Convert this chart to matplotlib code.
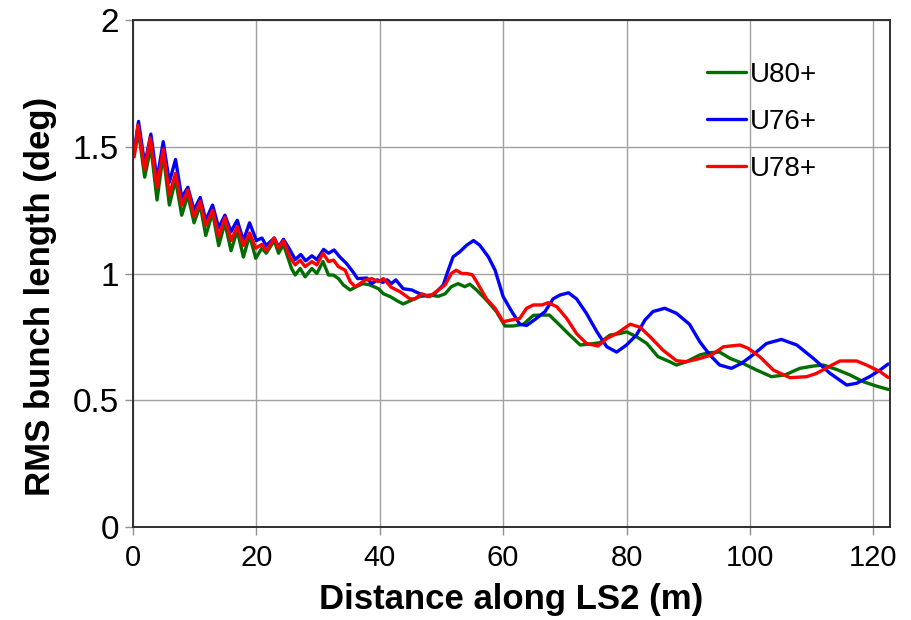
import matplotlib
matplotlib.use("Agg")
import matplotlib.pyplot as plt

# RMS bunch length along LS2 for three lattice settings
x_u80 = [0.2, 0.9, 1.9, 2.9, 3.9, 4.9, 5.9, 6.9, 7.9, 8.9, 9.9, 10.9, 11.8, 12.9, 13.9,
         14.9, 15.9, 16.9, 17.9, 18.9, 19.9, 20.9, 21.6, 22.9, 23.6, 24.4, 25.7, 26.3,
         27.1, 27.9, 29.0, 29.8, 30.8, 31.7, 32.5, 33.3, 34.1, 35.2, 36.2, 37.3, 38.4,
         39.8, 40.6, 41.7, 43.0, 43.8, 45.2, 46.5, 48.1, 49.5, 50.6, 51.6, 52.7, 53.8,
         54.6, 55.7, 57.3, 58.9, 60.3, 61.6, 63.3, 64.9, 66.4, 67.5, 68.9, 70.8, 72.5,
         74.1, 75.7, 77.3, 78.9, 80.0, 81.6, 83.3, 85.1, 87.0, 88.1, 89.7, 91.9, 93.5,
         95.1, 96.8, 98.9, 101.1, 103.5, 105.7, 108.1, 110.3, 111.9, 114.0, 116.2,
         118.4, 120.5, 122.4]
y_u80 = [1.47, 1.56, 1.38, 1.50, 1.29, 1.47, 1.27, 1.37, 1.23, 1.31, 1.20, 1.27, 1.15,
         1.24, 1.11, 1.20, 1.09, 1.17, 1.065, 1.15, 1.06, 1.10, 1.08, 1.13, 1.08, 1.115,
         1.02, 0.994, 1.02, 0.987, 1.02, 1.0, 1.047, 0.994, 0.994, 0.98, 0.955, 0.935,
         0.948, 0.96, 0.955, 0.94, 0.92, 0.909, 0.89, 0.88, 0.895, 0.909, 0.915, 0.91,
         0.92, 0.948, 0.96, 0.948, 0.958, 0.935, 0.895, 0.85, 0.793, 0.793, 0.80, 0.835,
         0.836, 0.836, 0.803, 0.757, 0.718, 0.722, 0.727, 0.757, 0.763, 0.77, 0.751,
         0.724, 0.672, 0.652, 0.639, 0.652, 0.679, 0.688, 0.69, 0.665, 0.645, 0.619,
         0.593, 0.60, 0.626, 0.635, 0.639, 0.622, 0.60, 0.573, 0.556, 0.543]

x_u76 = [0.2, 0.9, 1.9, 2.9, 3.9, 4.9, 5.9, 6.9, 7.9, 8.9, 9.9, 10.9, 11.8, 12.9, 13.9,
         14.9, 15.9, 16.9, 17.9, 18.9, 20.0, 20.9, 21.6, 22.9, 23.6, 24.4, 25.4, 26.3,
         27.2, 28.0, 29.0, 29.8, 30.9, 31.7, 32.6, 33.5, 34.6, 35.7, 36.4, 37.9, 38.7,
         39.6, 40.5, 41.2, 41.9, 42.6, 43.8, 45.2, 46.5, 47.9, 48.9, 50.3, 51.1, 51.9,
         53.0, 54.1, 55.2, 56.2, 57.6, 58.7, 60.0, 61.4, 62.7, 63.8, 65.4, 66.8, 68.1,
         69.2, 70.6, 71.9, 73.5, 75.2, 76.8, 78.4, 80.0, 81.6, 83.0, 84.3, 86.2, 88.1,
         90.2, 91.9, 93.5, 95.1, 97.0, 98.6, 100.5, 102.7, 105.1, 107.6, 110.3, 113.0,
         115.7, 117.3, 119.4, 121.1, 122.4]
y_u76 = [1.48, 1.60, 1.43, 1.55, 1.37, 1.52, 1.36, 1.45, 1.30, 1.34, 1.25, 1.30, 1.21,
         1.27, 1.18, 1.23, 1.165, 1.21, 1.13, 1.20, 1.13, 1.14, 1.11, 1.14, 1.105, 1.135,
         1.095, 1.055, 1.075, 1.05, 1.07, 1.055, 1.095, 1.08, 1.093, 1.066, 1.04, 1.005,
         0.98, 0.982, 0.96, 0.975, 0.965, 0.975, 0.96, 0.975, 0.94, 0.935, 0.92, 0.909,
         0.92, 0.955, 1.013, 1.066, 1.086, 1.112, 1.13, 1.112, 1.066, 1.013, 0.909, 0.85,
         0.80, 0.795, 0.823, 0.85, 0.90, 0.915, 0.924, 0.90, 0.843, 0.77, 0.711, 0.69,
         0.718, 0.757, 0.817, 0.85, 0.863, 0.843, 0.80, 0.73, 0.679, 0.639, 0.626, 0.645,
         0.679, 0.724, 0.74, 0.718, 0.665, 0.606, 0.56, 0.567, 0.593, 0.619, 0.643]

x_u78 = [0.2, 0.8, 1.9, 2.8, 3.9, 4.9, 5.9, 6.9, 7.9, 8.9, 9.9, 10.9, 11.8, 12.9, 13.9,
         14.9, 15.9, 16.9, 17.9, 18.9, 19.9, 20.9, 21.6, 22.9, 23.6, 24.4, 25.4, 26.3,
         27.1, 27.9, 29.0, 29.8, 30.8, 31.7, 32.5, 33.3, 34.4, 35.2, 36.0, 36.8, 37.6,
         38.7, 39.8, 40.6, 41.9, 43.3, 44.9, 45.7, 46.8, 48.1, 49.5, 50.6, 51.6, 52.4,
         53.3, 54.1, 55.0, 55.7, 57.3, 58.7, 60.0, 61.4, 62.7, 63.8, 64.9, 66.3, 67.3,
         68.7, 70.3, 71.9, 73.5, 75.4, 76.8, 78.4, 80.6, 82.2, 83.8, 85.9, 88.1, 89.7,
         91.9, 93.8, 95.7, 98.4, 99.7, 101.6, 103.8, 106.5, 109.2, 110.8, 113.0, 114.6,
         117.3, 118.9, 121.1, 122.4]
y_u78 = [1.46, 1.585, 1.41, 1.535, 1.34, 1.49, 1.31, 1.395, 1.27, 1.33, 1.225, 1.285,
         1.19, 1.25, 1.145, 1.22, 1.13, 1.185, 1.11, 1.16, 1.10, 1.115, 1.09, 1.14, 1.10,
         1.13, 1.066, 1.034, 1.053, 1.027, 1.047, 1.034, 1.08, 1.047, 1.053, 1.027, 1.013,
         0.968, 0.948, 0.96, 0.974, 0.98, 0.968, 0.98, 0.945, 0.928, 0.90, 0.90, 0.92,
         0.909, 0.935, 0.955, 1.0, 1.013, 1.0, 1.0, 0.995, 0.968, 0.90, 0.863, 0.81,
         0.817, 0.823, 0.863, 0.876, 0.876, 0.885, 0.869, 0.823, 0.763, 0.724, 0.714,
         0.744, 0.763, 0.80, 0.788, 0.751, 0.698, 0.656, 0.652, 0.665, 0.679, 0.711,
         0.718, 0.705, 0.672, 0.619, 0.589, 0.593, 0.606, 0.635, 0.655, 0.655, 0.639,
         0.613, 0.59]

series = [
    ("U80+", x_u80, y_u80, "#006e00"),
    ("U76+", x_u76, y_u76, "#0000ff"),
    ("U78+", x_u78, y_u78, "#ff0000"),
]

x_ticks = [0, 20, 40, 60, 80, 100, 120]
y_ticks = [0, 0.5, 1, 1.5, 2]
y_tick_labels = ["0", "0.5", "1", "1.5", "2"]

plt.rcParams["font.family"] = ["Liberation Sans", "DejaVu Sans"]

fig = plt.figure(figsize=(9.12, 6.2), dpi=100)
ax = fig.add_axes([0.1458, 0.15, 0.830, 0.8177])

for label, xs, ys, color in series:
    ax.plot(xs, ys, color=color, lw=2.4, label=label,
            solid_joinstyle="round", solid_capstyle="round")

ax.set_xlim(0, 122.7)
ax.set_ylim(0, 2)
ax.set_xticks(x_ticks)
ax.set_yticks(y_ticks)
ax.set_yticklabels(y_tick_labels)
ax.grid(True, color="#a0a0a0", lw=1.0)
ax.set_axisbelow(True)

for side in ax.spines.values():
    side.set_color("#303030")
    side.set_linewidth(1.4)

ax.tick_params(axis="both", direction="out", length=6, width=1, color="#909090", pad=4)
ax.tick_params(axis="x", labelsize=21, pad=6)
ax.tick_params(axis="y", labelsize=24)

ax.set_xlabel("Distance along LS2 (m)", fontsize=25, fontweight="bold", labelpad=8)
ax.set_ylabel("RMS bunch length (deg)", fontsize=25, fontweight="bold")
ax.yaxis.set_label_coords(-0.101, 0.455)

ax.legend(loc="upper left", bbox_to_anchor=(0.74, 0.945), frameon=False, fontsize=20,
          handlelength=1.4, handletextpad=0.15, labelspacing=0.76, borderpad=0)

fig.savefig("out.png", dpi=100)
